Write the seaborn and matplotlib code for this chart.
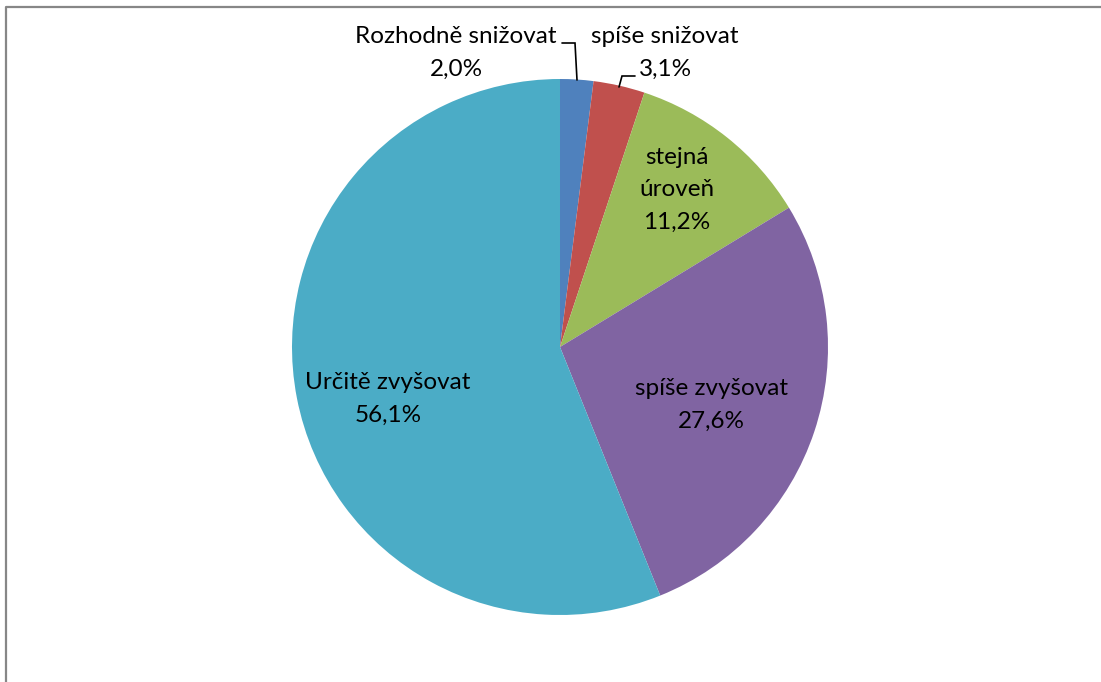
import matplotlib
matplotlib.use("Agg")
import matplotlib.pyplot as plt
import seaborn as sns
from matplotlib.lines import Line2D

categories = ["Rozhodně snižovat", "spíše snižovat", "stejná\núroveň", "spíše zvyšovat", "Určitě zvyšovat"]
values = [2.0, 3.1, 11.2, 27.6, 56.1]
value_labels = ["2,0%", "3,1%", "11,2%", "27,6%", "56,1%"]
colors = ["#4F81BD", "#C0504D", "#9BBB59", "#8064A2", "#4BACC6"]

sns.set_theme(style="white")
plt.rcParams["font.family"] = ["Lato", "DejaVu Sans"]

W, H, DPI = 1101, 682, 100
fig = plt.figure(figsize=(W / DPI, H / DPI), dpi=DPI)
fig.patch.set_facecolor("white")

CX, CY, R = 560, 347, 268
ax = fig.add_axes([0, 0, 1, 1])

ax.pie(values, colors=colors, startangle=90, counterclock=False,
       radius=1, center=(0, 0), wedgeprops=dict(linewidth=0))
ax.set_xlim(-CX / R, (W - CX) / R)
ax.set_ylim(-(H - CY) / R, CY / R)
ax.set_axis_off()


def P(px, py):
    return ((px - CX) / R, (CY - py) / R)


FS = 17.5
LS = 1.68
label_pos = [(456, 53), (665, 53), (677, 190), (711, 405), (388, 399)]
for cat, lab, (px, py) in zip(categories, value_labels, label_pos):
    ax.text(*P(px, py), f"{cat}\n{lab}", ha="center", va="center",
            fontsize=FS, color="black", linespacing=LS)

# leader lines
for pts in ([(562, 43), (575, 43), (577, 80)],
            [(635, 76), (622, 76), (619, 87)]):
    xs, ys = zip(*[P(*p) for p in pts])
    ax.plot(xs, ys, color="black", lw=1.2, solid_joinstyle="miter")

# outer frame (top and left edges visible)
fig.add_artist(Line2D([6.5 / W, 6.5 / W, 1.0], [0.0, 1 - 6.5 / H, 1 - 6.5 / H],
                      transform=fig.transFigure, color="#878787", lw=1.6))

fig.savefig("out.png", dpi=DPI, facecolor="white")
